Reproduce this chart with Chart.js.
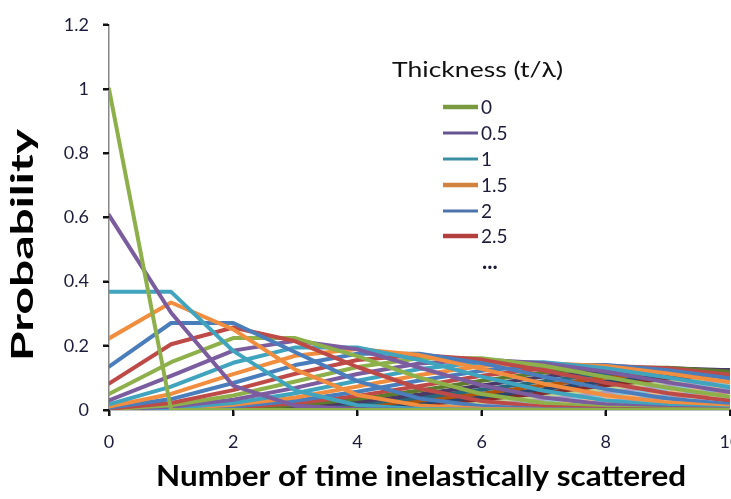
<!DOCTYPE html>
<html>
<head>
<meta charset="utf-8">
<script src="https://cdn.jsdelivr.net/npm/chart.js@4"></script>
<style>
html, body { margin: 0; padding: 0; background: #fff; overflow: hidden; }
#chart { display: block; }
</style>
</head>
<body>
<canvas id="chart" width="760" height="499"></canvas>
<script>
// number of times inelastically scattered (x axis)
const counts = [0, 1, 2, 3, 4, 5, 6, 7, 8, 9, 10, 11];

// thickness t/lambda of each curve
const thickness = [0, 0.5, 1, 1.5, 2, 2.5, 3, 3.5, 4, 4.5, 5, 5.5, 6, 6.5, 7, 7.5, 8, 8.5, 9, 9.5,
  10, 10.5, 11, 11.5, 12, 12.5, 13, 13.5, 14, 14.5, 15, 15.5, 16, 16.5, 17, 17.5, 18, 18.5, 19, 19.5, 20];

// probability, one row per thickness
const probability = [
  [1, 0, 0, 0, 0, 0, 0, 0, 0, 0, 0, 0],
  [0.607, 0.303, 0.076, 0.013, 0.002, 0, 0, 0, 0, 0, 0, 0],
  [0.368, 0.368, 0.184, 0.061, 0.015, 0.003, 0.001, 0, 0, 0, 0, 0],
  [0.223, 0.335, 0.251, 0.126, 0.047, 0.014, 0.004, 0.001, 0, 0, 0, 0],
  [0.135, 0.271, 0.271, 0.180, 0.090, 0.036, 0.012, 0.003, 0.001, 0, 0, 0],
  [0.082, 0.205, 0.257, 0.214, 0.134, 0.067, 0.028, 0.010, 0.003, 0.001, 0, 0],
  [0.050, 0.149, 0.224, 0.224, 0.168, 0.101, 0.050, 0.022, 0.008, 0.003, 0.001, 0],
  [0.030, 0.106, 0.185, 0.216, 0.189, 0.132, 0.077, 0.039, 0.017, 0.007, 0.002, 0.001],
  [0.018, 0.073, 0.147, 0.195, 0.195, 0.156, 0.104, 0.060, 0.030, 0.013, 0.005, 0.002],
  [0.011, 0.050, 0.112, 0.169, 0.190, 0.171, 0.128, 0.082, 0.046, 0.023, 0.010, 0.004],
  [0.007, 0.034, 0.084, 0.140, 0.175, 0.175, 0.146, 0.104, 0.065, 0.036, 0.018, 0.008],
  [0.004, 0.022, 0.062, 0.113, 0.156, 0.171, 0.157, 0.123, 0.085, 0.052, 0.029, 0.014],
  [0.002, 0.015, 0.045, 0.089, 0.134, 0.161, 0.161, 0.138, 0.103, 0.069, 0.041, 0.023],
  [0.002, 0.010, 0.032, 0.069, 0.112, 0.145, 0.157, 0.146, 0.119, 0.086, 0.056, 0.033],
  [0.001, 0.006, 0.022, 0.052, 0.091, 0.128, 0.149, 0.149, 0.130, 0.101, 0.071, 0.045],
  [0.001, 0.004, 0.016, 0.039, 0.073, 0.109, 0.137, 0.146, 0.137, 0.114, 0.086, 0.059],
  [0, 0.003, 0.011, 0.029, 0.057, 0.092, 0.122, 0.140, 0.140, 0.124, 0.099, 0.072],
  [0, 0.002, 0.007, 0.021, 0.044, 0.075, 0.107, 0.129, 0.138, 0.130, 0.110, 0.085],
  [0, 0.001, 0.005, 0.015, 0.034, 0.061, 0.091, 0.117, 0.132, 0.132, 0.119, 0.097],
  [0, 0.001, 0.003, 0.011, 0.025, 0.048, 0.076, 0.104, 0.123, 0.130, 0.124, 0.107],
  [0, 0, 0.002, 0.008, 0.019, 0.038, 0.063, 0.090, 0.113, 0.125, 0.125, 0.114],
  [0, 0, 0.002, 0.005, 0.014, 0.029, 0.051, 0.077, 0.101, 0.118, 0.124, 0.118],
  [0, 0, 0.001, 0.004, 0.010, 0.022, 0.041, 0.065, 0.089, 0.109, 0.119, 0.119],
  [0, 0, 0.001, 0.003, 0.007, 0.017, 0.033, 0.053, 0.077, 0.098, 0.113, 0.118],
  [0, 0, 0, 0.002, 0.005, 0.013, 0.025, 0.044, 0.066, 0.087, 0.105, 0.114],
  [0, 0, 0, 0.001, 0.004, 0.009, 0.020, 0.035, 0.055, 0.077, 0.096, 0.109],
  [0, 0, 0, 0.001, 0.003, 0.007, 0.015, 0.028, 0.046, 0.066, 0.086, 0.101],
  [0, 0, 0, 0.001, 0.002, 0.005, 0.012, 0.022, 0.038, 0.056, 0.076, 0.093],
  [0, 0, 0, 0, 0.001, 0.004, 0.009, 0.017, 0.030, 0.047, 0.066, 0.084],
  [0, 0, 0, 0, 0.001, 0.003, 0.007, 0.013, 0.024, 0.039, 0.057, 0.075],
  [0, 0, 0, 0, 0.001, 0.002, 0.005, 0.010, 0.019, 0.032, 0.049, 0.066],
  [0, 0, 0, 0, 0, 0.001, 0.004, 0.008, 0.015, 0.026, 0.041, 0.058],
  [0, 0, 0, 0, 0, 0.001, 0.003, 0.006, 0.012, 0.021, 0.034, 0.050],
  [0, 0, 0, 0, 0, 0.001, 0.002, 0.005, 0.009, 0.017, 0.028, 0.042],
  [0, 0, 0, 0, 0, 0, 0.001, 0.003, 0.007, 0.014, 0.023, 0.036],
  [0, 0, 0, 0, 0, 0, 0.001, 0.003, 0.005, 0.011, 0.019, 0.030],
  [0, 0, 0, 0, 0, 0, 0.001, 0.002, 0.004, 0.008, 0.015, 0.025],
  [0, 0, 0, 0, 0, 0, 0.001, 0.001, 0.003, 0.006, 0.012, 0.020],
  [0, 0, 0, 0, 0, 0, 0, 0.001, 0.002, 0.005, 0.009, 0.016],
  [0, 0, 0, 0, 0, 0, 0, 0.001, 0.002, 0.004, 0.007, 0.013],
  [0, 0, 0, 0, 0, 0, 0, 0.001, 0.001, 0.003, 0.006, 0.011]
];

const xTickLabels = ['0', '2', '4', '6', '8', '10'];
const yTickLabels = ['0', '0.2', '0.4', '0.6', '0.8', '1', '1.2'];
const legendLabels = ['0', '0.5', '1', '1.5', '2', '2.5'];

// Excel style palette: base colours first, then darker and lighter shades
const baseColors = ['#8DB04A', '#7A5C9F', '#41A4BE', '#F18D3E', '#4A7DBB', '#BE4A47'];
const darkColors = ['#5E7A2C', '#4C3A66', '#27687C', '#B0540C', '#28466F', '#86292A'];
const lightColors = ['#BDD293', '#AE9CC4', '#8CC8DA', '#F9B988', '#8EAED5', '#D78F8D'];
const paleColors = ['#D3E1B7', '#C7BBD7', '#B1DAE5', '#FBD0AE', '#B3C8E3', '#E3B3B2'];
const legendColors = ['#7A9A40', '#65548F', '#3A8FA3', '#D0823E', '#4C74AA', '#B4403E'];
const legendWidths = [4.5, 3, 3, 4.5, 3, 4.5];

function seriesColor(i) {
  if (i < 18) return baseColors[i % 6];
  if (i < 24) return darkColors[i % 6];
  if (i < 30) return lightColors[i % 6];
  return paleColors[i % 6];
}

// draw text squeezed/stretched to a given length
function fitText(ctx, text, font, x, y, len, angle, align) {
  ctx.save();
  ctx.font = font;
  ctx.translate(x, y);
  ctx.rotate(angle);
  ctx.scale(len / ctx.measureText(text).width, 1);
  ctx.textAlign = align;
  ctx.textBaseline = 'alphabetic';
  ctx.fillText(text, 0, 0);
  ctx.restore();
}

const textPlugin = {
  id: 'texts',
  afterDraw(chart) {
    const ctx = chart.ctx;
    const xs = chart.scales.x;
    const ys = chart.scales.y;
    ctx.save();

    // outward tick marks
    ctx.strokeStyle = '#111';
    ctx.lineWidth = 2;
    ctx.beginPath();
    xs.ticks.forEach((t) => {
      const px = Math.round(xs.getPixelForValue(t.value));
      ctx.moveTo(px, ys.bottom);
      ctx.lineTo(px, ys.bottom + 6);
    });
    ys.ticks.forEach((t) => {
      const py = Math.round(ys.getPixelForValue(t.value));
      ctx.moveTo(xs.left - 6, py);
      ctx.lineTo(xs.left, py);
    });
    ctx.stroke();

    ctx.fillStyle = '#000';
    fitText(ctx, 'Probability', 'bold 30px Lato', 33, 245, 232, -Math.PI / 2, 'center');
    fitText(ctx, 'Number of time inelastically scattered', 'bold 28px Lato', 421, 486, 530, 0, 'center');

    // legend
    ctx.fillStyle = '#111';
    fitText(ctx, 'Thickness (t/\u03bb)', '22px Lato', 392, 77, 171, 0, 'left');
    const rowY = [107, 133, 159, 185, 211, 236];
    ctx.font = '19px Lato';
    ctx.textBaseline = 'middle';
    ctx.textAlign = 'left';
    legendLabels.forEach((lab, i) => {
      ctx.strokeStyle = legendColors[i];
      ctx.lineWidth = legendWidths[i];
      ctx.beginPath();
      ctx.moveTo(443, rowY[i]);
      ctx.lineTo(478, rowY[i]);
      ctx.stroke();
      ctx.fillStyle = '#1b1b3a';
      ctx.fillText(lab, 481, rowY[i] + 1);
    });
    ctx.font = 'bold 22px Lato';
    ctx.fillText('...', 482, 262);
    ctx.restore();
  }
};

const ctx = document.getElementById('chart').getContext('2d');
const chart = new Chart(ctx, {
  type: 'line',
  data: {
    datasets: thickness.map((t, i) => ({
      label: String(t),
      data: probability[i].map((p, n) => ({ x: counts[n], y: p })),
      borderColor: seriesColor(i),
      borderWidth: 4,
      borderJoinStyle: 'round',
      borderCapStyle: 'round',
      pointRadius: 0,
      tension: 0,
      fill: false
    }))
  },
  options: {
    responsive: false,
    animation: false,
    devicePixelRatio: 1,
    layout: { padding: { top: 10, right: 30, bottom: 0, left: 0 } },
    plugins: {
      legend: { display: false },
      tooltip: { enabled: false }
    },
    scales: {
      x: {
        type: 'linear',
        min: 0,
        max: 10,
        afterFit: (s) => { s.height = 89; },
        ticks: {
          stepSize: 2,
          padding: 15,
          color: '#1d1d3b',
          font: { family: 'Lato', size: 18 },
          maxRotation: 0,
          callback: (v) => xTickLabels[Math.round(v / 2)]
        },
        grid: { drawOnChartArea: false, tickLength: 6, tickColor: '#111', tickWidth: 2 },
        border: { color: '#868686', width: 1.5 }
      },
      y: {
        min: 0,
        max: 1.2,
        afterFit: (s) => { s.width = 109; },
        ticks: {
          stepSize: 0.2,
          padding: 14,
          color: '#1d1d3b',
          font: { family: 'Lato', size: 18 },
          callback: (v) => yTickLabels[Math.round(v / 0.2)]
        },
        grid: { drawOnChartArea: false, tickLength: 6, tickColor: '#111', tickWidth: 2 },
        border: { color: '#868686', width: 1.5 }
      }
    }
  },
  plugins: [textPlugin]
});
</script>
</body>
</html>
